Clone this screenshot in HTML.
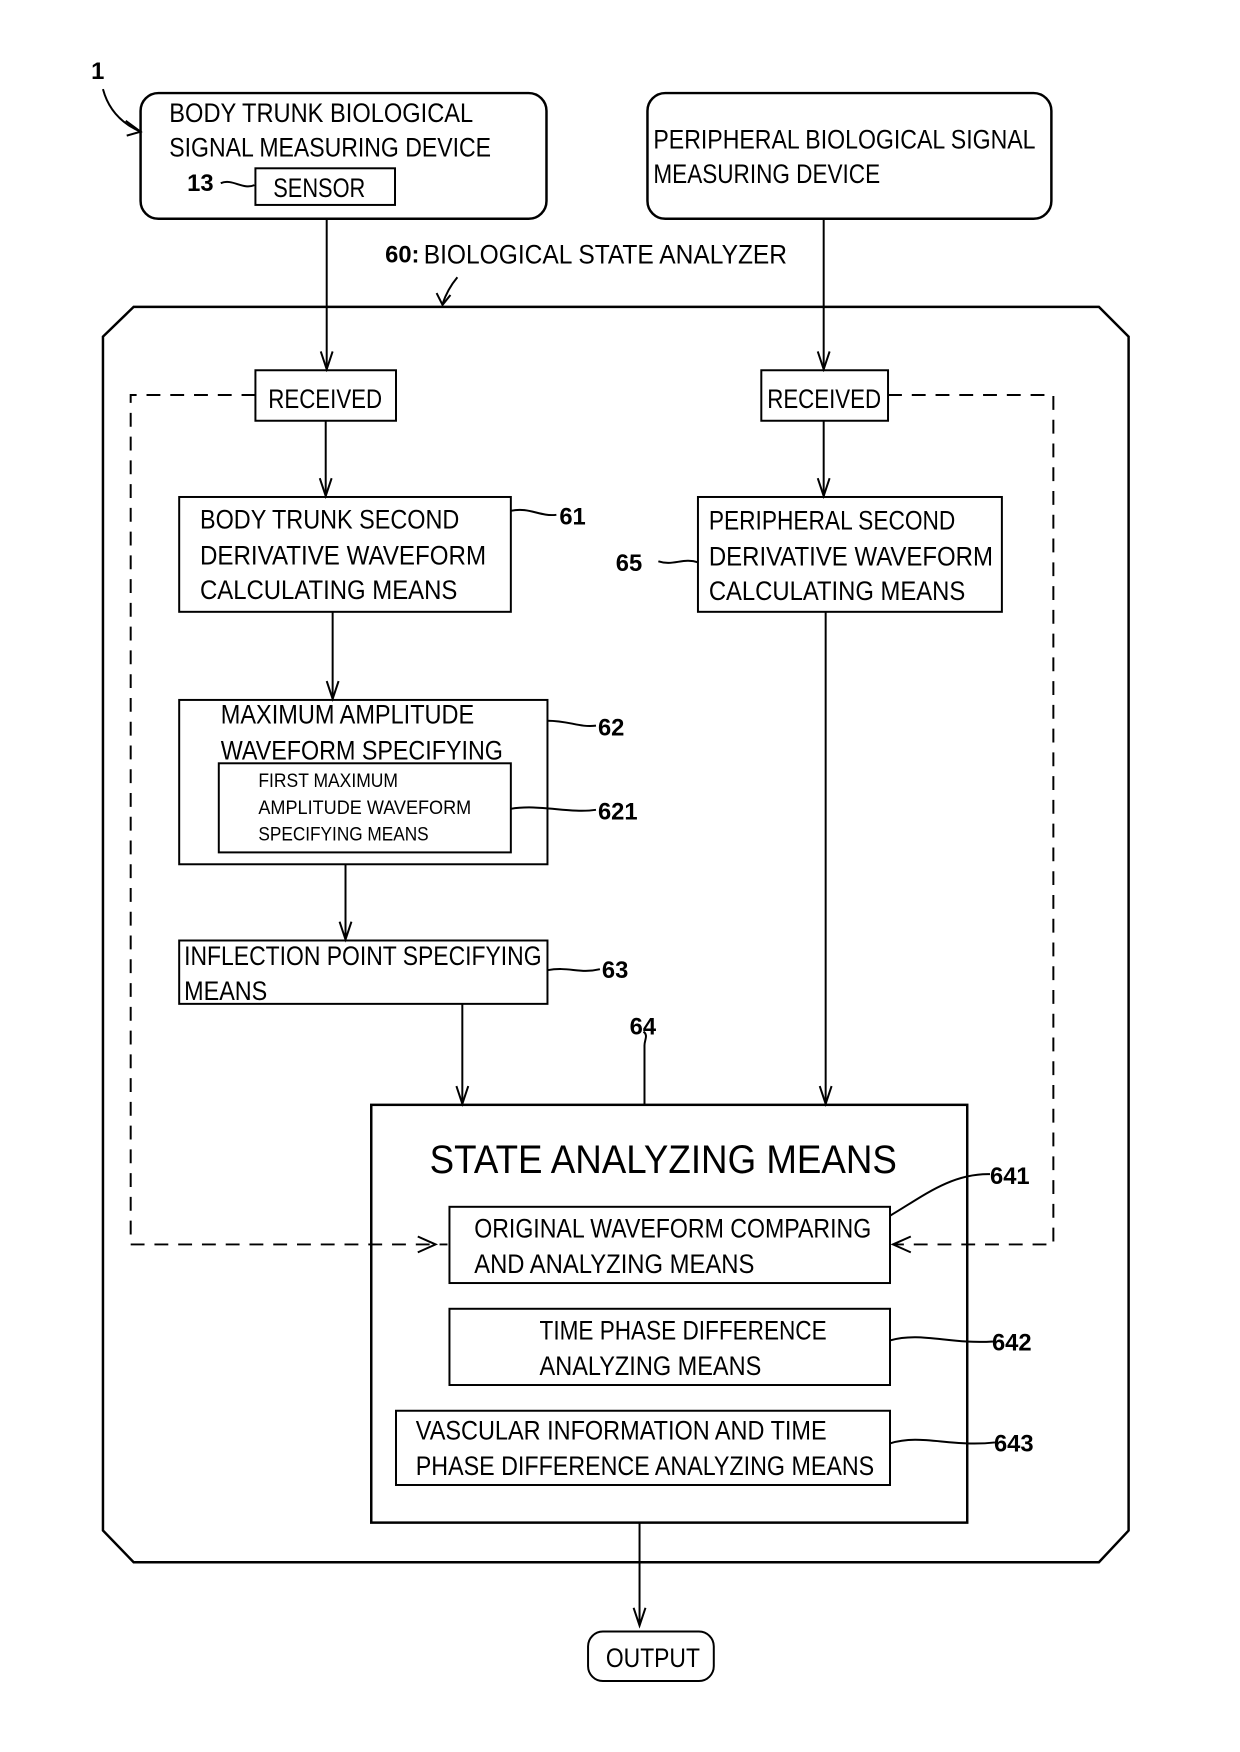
<!DOCTYPE html>
<html><head><meta charset="utf-8"><style>
html,body{margin:0;padding:0;background:#fff;}
svg{display:block;}
text{font-family:"Liberation Sans",sans-serif;fill:#000;}
.t{font-size:27px;}
.s{font-size:20px;}
.n{font-size:24px;font-weight:bold;}
</style></head><body>
<svg width="1240" height="1752" viewBox="0 0 1240 1752" xmlns="http://www.w3.org/2000/svg">
<defs>
<marker id="a" markerWidth="22" markerHeight="16" refX="19" refY="7" orient="auto" markerUnits="userSpaceOnUse">
<path d="M1,1 L19,7 L1,13" fill="none" stroke="#000" stroke-width="2"/>
</marker>
</defs>
<g transform="scale(0.99)">
<g fill="none" stroke="#000" stroke-width="2.5">
<rect x="142" y="94" width="410" height="127" rx="18"/>
<rect x="258" y="170" width="141" height="37" stroke-width="2"/>
<rect x="654" y="94" width="408" height="127" rx="18"/>
<path d="M135,310 L1110,310 L1140,340 L1140,1546 L1110,1578 L135,1578 L104,1546 L104,340 Z"/>
<rect x="258" y="374" width="142" height="51" stroke-width="2"/>
<rect x="769" y="374" width="128" height="51" stroke-width="2"/>
<rect x="181" y="502" width="335" height="116" stroke-width="2"/>
<rect x="705" y="502" width="307" height="116" stroke-width="2"/>
<rect x="181" y="707" width="372" height="166" stroke-width="2"/>
<rect x="221" y="771" width="295" height="90" stroke-width="2"/>
<rect x="181" y="950" width="372" height="64" stroke-width="2"/>
<rect x="375" y="1116" width="602" height="422"/>
<rect x="454" y="1219" width="445" height="77" stroke-width="2"/>
<rect x="454" y="1322" width="445" height="77" stroke-width="2"/>
<rect x="400" y="1425" width="499" height="75" stroke-width="2"/>
<rect x="594" y="1648" width="127" height="50" rx="15" stroke-width="2"/>
</g>
<g fill="none" stroke="#000" stroke-width="2">
<line x1="330" y1="221" x2="330" y2="373" marker-end="url(#a)"/>
<line x1="832" y1="221" x2="832" y2="373" marker-end="url(#a)"/>
<line x1="329" y1="425" x2="329" y2="501" marker-end="url(#a)"/>
<line x1="832" y1="425" x2="832" y2="501" marker-end="url(#a)"/>
<line x1="336" y1="618" x2="336" y2="706" marker-end="url(#a)"/>
<line x1="349" y1="873" x2="349" y2="949" marker-end="url(#a)"/>
<line x1="467" y1="1014" x2="467" y2="1115" marker-end="url(#a)"/>
<line x1="834" y1="618" x2="834" y2="1115" marker-end="url(#a)"/>
<line x1="646" y1="1538" x2="646" y2="1642" marker-end="url(#a)"/>
<path d="M462,280 Q452,292 447,307"/>
<path d="M441,296 L447,308 L455,298"/>
<path d="M104,90 Q112,120 142,133"/>
<path d="M127,122 L142,133 L128,137"/>
<path d="M258,399 L132,399 L132,1257 L452,1257" stroke-dasharray="14,10"/>
<path d="M422,1249 L440,1257 L422,1265"/>
<path d="M897,399 L1064,399 L1064,1257 L902,1257" stroke-dasharray="14,10"/>
<path d="M920,1249 L902,1257 L920,1265"/>
<path d="M516,516 C535,512 545,522 562,520"/>
<path d="M705,568 C690,563 680,572 665,567"/>
<path d="M553,728 C575,728 585,735 602,733"/>
<path d="M516,817 C545,812 575,822 602,818"/>
<path d="M553,980 C575,976 585,984 606,979"/>
<path d="M651,1116 L651,1056 C651,1050 655,1046 650,1042"/>
<path d="M899,1228 C930,1210 960,1185 1000,1186"/>
<path d="M899,1354 C930,1345 960,1358 1003,1355"/>
<path d="M899,1458 C930,1448 960,1462 1005,1457"/>
<path d="M223,185 C235,180 245,192 257,187"/>
</g>
<text class="n" x="92" y="80">1</text>
<text class="t" x="171" y="123" textLength="307" lengthAdjust="spacingAndGlyphs">BODY TRUNK BIOLOGICAL</text>
<text class="t" x="171" y="158" textLength="325" lengthAdjust="spacingAndGlyphs">SIGNAL MEASURING DEVICE</text>
<text class="n" x="189" y="193">13</text>
<text class="t" x="276" y="199" textLength="93" lengthAdjust="spacingAndGlyphs">SENSOR</text>
<text class="t" x="660" y="150" textLength="386" lengthAdjust="spacingAndGlyphs">PERIPHERAL BIOLOGICAL SIGNAL</text>
<text class="t" x="660" y="185" textLength="229" lengthAdjust="spacingAndGlyphs">MEASURING DEVICE</text>
<text class="n" x="389" y="265">60:</text>
<text class="t" x="428" y="266" textLength="367" lengthAdjust="spacingAndGlyphs">BIOLOGICAL STATE ANALYZER</text>
<text class="t" x="271" y="412" textLength="115" lengthAdjust="spacingAndGlyphs">RECEIVED</text>
<text class="t" x="775" y="412" textLength="115" lengthAdjust="spacingAndGlyphs">RECEIVED</text>
<text class="t" x="202" y="534" textLength="262" lengthAdjust="spacingAndGlyphs">BODY TRUNK SECOND</text>
<text class="t" x="202" y="570" textLength="289" lengthAdjust="spacingAndGlyphs">DERIVATIVE WAVEFORM</text>
<text class="t" x="202" y="605" textLength="260" lengthAdjust="spacingAndGlyphs">CALCULATING MEANS</text>
<text class="n" x="565" y="530">61</text>
<text class="t" x="716" y="535" textLength="249" lengthAdjust="spacingAndGlyphs">PERIPHERAL SECOND</text>
<text class="t" x="716" y="571" textLength="287" lengthAdjust="spacingAndGlyphs">DERIVATIVE WAVEFORM</text>
<text class="t" x="716" y="606" textLength="259" lengthAdjust="spacingAndGlyphs">CALCULATING MEANS</text>
<text class="n" x="622" y="577">65</text>
<text class="t" x="223" y="731" textLength="256" lengthAdjust="spacingAndGlyphs">MAXIMUM AMPLITUDE</text>
<text class="t" x="223" y="767" textLength="285" lengthAdjust="spacingAndGlyphs">WAVEFORM SPECIFYING</text>
<text class="s" x="261" y="795" textLength="141" lengthAdjust="spacingAndGlyphs">FIRST MAXIMUM</text>
<text class="s" x="261" y="822" textLength="215" lengthAdjust="spacingAndGlyphs">AMPLITUDE WAVEFORM</text>
<text class="s" x="261" y="849" textLength="172" lengthAdjust="spacingAndGlyphs">SPECIFYING MEANS</text>
<text class="n" x="604" y="743">62</text>
<text class="n" x="604" y="828">621</text>
<text class="t" x="186" y="975" textLength="361" lengthAdjust="spacingAndGlyphs">INFLECTION POINT SPECIFYING</text>
<text class="t" x="186" y="1010" textLength="84" lengthAdjust="spacingAndGlyphs">MEANS</text>
<text class="n" x="608" y="988">63</text>
<text class="n" x="636" y="1045">64</text>
<text x="434" y="1185" style="font-size:40px" textLength="472" lengthAdjust="spacingAndGlyphs">STATE ANALYZING MEANS</text>
<text class="t" x="479" y="1250" textLength="401" lengthAdjust="spacingAndGlyphs">ORIGINAL WAVEFORM COMPARING</text>
<text class="t" x="479" y="1286" textLength="283" lengthAdjust="spacingAndGlyphs">AND ANALYZING MEANS</text>
<text class="n" x="1000" y="1196">641</text>
<text class="t" x="545" y="1353" textLength="290" lengthAdjust="spacingAndGlyphs">TIME PHASE DIFFERENCE</text>
<text class="t" x="545" y="1389" textLength="224" lengthAdjust="spacingAndGlyphs">ANALYZING MEANS</text>
<text class="n" x="1002" y="1364">642</text>
<text class="t" x="420" y="1454" textLength="415" lengthAdjust="spacingAndGlyphs">VASCULAR INFORMATION AND TIME</text>
<text class="t" x="420" y="1490" textLength="463" lengthAdjust="spacingAndGlyphs">PHASE DIFFERENCE ANALYZING MEANS</text>
<text class="n" x="1004" y="1466">643</text>
<text class="t" x="612" y="1684" textLength="95" lengthAdjust="spacingAndGlyphs">OUTPUT</text>
</g>
</svg>
</body></html>
